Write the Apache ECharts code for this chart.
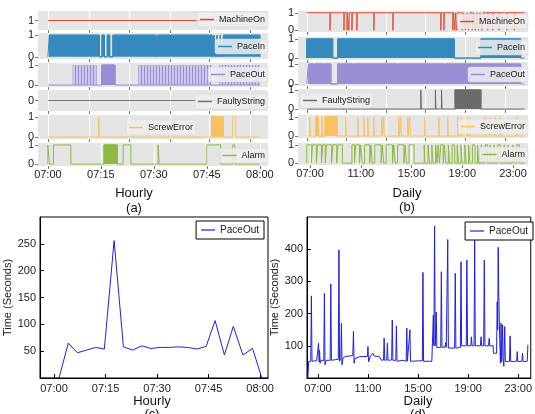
<!DOCTYPE html>
<html>
<head>
<meta charset="utf-8">
<title>Machine signals</title>
<script src="https://cdn.jsdelivr.net/npm/echarts@6/dist/echarts.min.js"></script>
<style>
  html, body { margin: 0; background: #fff; }
  #main { width: 535px; height: 414px; }
</style>
</head>
<body>
<div id="main"></div>
<script>
// ---- axis ticks ----
var hourTicks = [0, 15, 30, 45, 60];                 // minutes after 07:00
var hourLabels = ['07:00', '07:15', '07:30', '07:45', '08:00'];
var hourRowTicks = [0.1, 11.6, 23.0, 34.5, 45.8, 57.2];
var dayTicks = [7, 11, 15, 19, 23];                  // hours
var dayLabels = ['07:00', '11:00', '15:00', '19:00', '23:00'];
var dayRowTicks = [6.74, 9.89, 12.99, 16.12, 19.21, 22.37];

// ---- hourly signals (minutes), spans = high periods, blocks = dense high periods ----
var hMachineOnSpans = [];
var hPaceInBlocks = [[0.4, 14.6], [15.3, 16.0], [16.8, 17.5], [18.4, 30.6], [31.0, 46.5], [47.0, 47.5], [47.9, 48.4], [48.8, 49.3], [49.7, 60]];
var hPaceOutBlocks = [[15.2, 19.0]];
var hPaceOutStripes = [[7.0, 13.8], [25.6, 46.3], [48.5, 60]];
var hFaultySpans = [];
var hScrewSpans = [[14.4, 14.6], [52.3, 53.2]];
var hScrewBlocks = [[46.3, 49.7]];
var hAlarmSpans = [[0, 0.4], [1.6, 6.5], [21.3, 23.5], [31.2, 31.5], [45.0, 48.9], [52.3, 52.9]];
var hAlarmBlocks = [[15.9, 19.7]];

// ---- daily signals (hours) ----
var dMachineOnDips = [[8.57, 8.6], [9.67, 9.7], [9.91, 9.94], [10.06, 10.09], [10.3, 10.33], [10.69, 10.72], [12.03, 12.06], [13.53, 13.56],
  [17.31, 17.34], [17.55, 17.58], [18.26, 18.29], [18.42, 18.45], [18.57, 18.6], [19.0, 19.12], [19.25, 19.38], [19.5, 19.62],
  [19.78, 19.9], [20.03, 20.15], [20.28, 20.4], [20.55, 20.66], [21.0, 21.05], [21.4, 21.45], [21.9, 21.95], [22.5, 22.55], [23.1, 23.15]];
var dPaceInBlocks = [[6.74, 8.79], [9.18, 18.37], [20.47, 23.6]];
var dPaceOutBlocks = [[6.87, 7.3], [7.38, 8.02], [8.08, 8.65], [9.18, 10.38], [10.45, 13.88], [13.95, 17.6], [17.68, 23.6]];
var dFaultySpans = [[15.73, 15.77], [16.88, 16.92], [17.36, 17.4]];
var dFaultyBlocks = [[18.43, 20.47]];
var dScrewSpans = [[6.98, 7.03], [7.93, 7.98], [9.82, 9.87], [10.76, 10.81], [11.24, 11.29], [11.55, 11.6], [12.02, 12.07], [12.65, 12.7],
  [12.81, 12.86], [13.99, 14.04], [14.15, 14.2], [14.7, 14.75], [14.86, 14.91], [16.04, 16.09], [17.15, 17.2], [17.85, 17.9],
  [18.64, 18.69], [18.88, 18.93], [19.35, 19.4], [19.59, 19.64], [20.8, 20.85], [21.2, 21.25], [21.6, 21.65], [21.97, 22.02], [23.3, 23.35]];
var dScrewBlocks = [[7.45, 7.65], [8.18, 9.13]];
var dAlarmSpans = [[6.74, 7.1], [7.2, 7.5], [7.6, 7.9], [8.0, 8.2], [8.3, 8.7], [8.8, 9.1], [9.2, 9.55],
  [10.3, 10.5], [10.6, 10.9], [11.0, 11.1], [11.3, 11.7], [11.8, 11.9], [12.1, 12.6], [12.7, 12.8], [13.0, 13.5], [13.6, 13.7],
  [13.9, 14.4], [14.5, 14.6], [14.8, 15.2], [16.0, 16.05], [16.3, 16.4], [16.6, 16.7], [16.9, 17.0], [17.1, 17.2], [17.3, 17.5],
  [17.6, 17.7], [17.9, 18.0], [18.2, 18.4], [18.6, 18.7], [18.9, 19.0], [19.2, 19.3], [19.5, 19.6], [19.8, 20.0], [20.2, 20.3],
  [20.5, 20.6], [20.8, 21.0], [21.2, 21.3], [21.5, 21.6], [21.8, 22.0], [22.3, 22.4], [22.6, 22.7], [23.0, 23.1], [23.3, 23.5]];

// ---- PaceOut durations (seconds) ----
var hourlyTime = [-4.08, 1.46, 4.17, 6.79, 9.5, 12.1, 14.65, 17.5, 20.2, 22.9, 25.6, 28.2, 30.9, 33.6, 36.2, 38.9, 41.6, 44.3, 46.9, 49.6, 52.2, 55.0, 57.8, 60.5, 62.9];
var hourlyPace = [0, 0, 65, 47, 52, 57, 54, 256, 58, 52, 60, 55, 57, 57, 58, 57, 54, 59, 107, 43, 96, 43, 55, 0, 0];

var dailyTime = [6.2, 6.26, 6.43, 6.48, 6.53, 6.9, 7.0, 7.05, 7.1, 7.13, 7.18, 7.25,
  7.47, 7.52, 7.57, 7.65, 7.98, 8.03, 8.08, 8.4, 8.63, 8.68, 8.73, 8.83, 8.88, 8.93, 9.0,
  9.2, 9.5, 9.79, 9.84, 9.89, 9.95, 10.1, 10.3, 10.95, 11.0, 11.05, 11.2, 11.39, 11.5, 11.9, 12.03,
  12.08, 12.24, 12.29, 12.34, 12.5, 12.55, 12.6, 12.89, 12.94, 12.99, 13.22, 13.27, 13.32, 13.8,
  14.05, 14.1, 14.15, 14.3, 14.35, 14.4, 15.0, 15.34, 15.39, 15.44, 16.1,
  16.17, 16.22, 16.26, 16.32, 16.37, 16.45, 16.5, 16.81, 16.86, 16.91, 17.15, 17.2, 17.25,
  17.32, 17.37, 17.42, 17.92, 17.97, 18.02, 18.38, 18.43, 18.48, 18.85, 18.9, 18.95, 19.21, 19.26, 19.31,
  19.47, 19.52, 19.57, 19.98, 20.03, 20.08, 20.24, 20.29, 20.34, 20.63, 20.68, 20.73,
  21.0, 21.02, 21.27, 21.32, 21.36, 21.4, 21.44, 21.48, 21.52, 21.58, 21.63, 21.67, 21.71, 21.75, 21.79, 21.85, 21.92, 21.97,
  22.3, 22.35, 22.4, 22.87, 22.92, 22.97, 23.29, 23.34, 23.39, 23.72, 23.77];
var dailyPace = [0, 51, 52, 255, 52, 54, 55, 108, 50, 87, 46, 55,
  54, 263, 41, 55, 55, 292, 55, 57, 58, 398, 52, 60, 170, 41, 62,
  67, 68, 70, 145, 46, 60, 62, 66, 67, 98, 50, 68, 77, 68, 67, 67,
  55, 56, 124, 55, 56, 108, 55, 56, 180, 55, 55, 162, 52, 55,
  52, 155, 52, 52, 150, 52, 53, 54, 328, 52, 52,
  52, 195, 100, 472, 100, 205, 95, 95, 330, 95, 96, 110, 95,
  95, 430, 93, 93, 325, 93, 95, 361, 100, 100, 366, 100, 100, 128, 100,
  100, 428, 100, 100, 128, 100, 100, 366, 100, 100, 123, 100,
  100, 77, 77, 237, 150, 406, 270, 268, 120, 46, 170, 50, 46, 165, 60, 36, 160, 51,
  52, 131, 51, 52, 82, 51, 52, 77, 51, 52, 103];

// ---- helpers ----
function steps(start, end, base, spans) {
  var hi = 1 - base, d = [[start, base]];
  spans.forEach(function (s) { d.push([s[0], base], [s[0], hi], [s[1], hi], [s[1], base]); });
  d.push([end, base]);
  return d;
}
function pairs(xs, ys) { return xs.map(function (x, i) { return [x, ys[i]]; }); }

var stripe = document.createElement('canvas');
stripe.width = 3; stripe.height = 4;
var sg = stripe.getContext('2d');
sg.fillStyle = '#cdc8ea'; sg.fillRect(0, 0, 3, 4);
sg.fillStyle = '#988ED5'; sg.fillRect(0, 0, 1, 4);

var FONT = 'Liberation Sans, Arial, sans-serif';
var C = { mach: '#E24A33', pin: '#348ABD', pout: '#988ED5', faulty: '#777777', screw: '#FBC15E', alarm: '#8EBA42' };

var rowsA = [
  { key: '(a) MachineOn', color: C.mach, top: 11, h: 19, ymin: 0.945, ymax: 1.055, ticks: [1], base: 1, spans: hMachineOnSpans, lg: { right: 267, top: 12 } },
  { key: '(a) PaceIn', color: C.pin, top: 33, h: 26, ymin: -0.1, ymax: 1.1, ticks: [0, 1], base: 0, spans: [], blocks: hPaceInBlocks, lg: { right: 267, top: 39 } },
  { key: '(a) PaceOut', color: C.pout, top: 63, h: 24, ymin: -0.1, ymax: 1.1, ticks: [0, 1], base: 0, spans: [], blocks: hPaceOutBlocks, stripes: hPaceOutStripes, lg: { right: 267, top: 67 } },
  { key: '(a) FaultyString', color: C.faulty, top: 90, h: 21, ymin: -0.055, ymax: 0.055, ticks: [0], base: 0, spans: hFaultySpans, lg: { right: 267, top: 94 } },
  { key: '(a) ScrewError', color: C.screw, top: 115, h: 24, ymin: -0.1, ymax: 1.1, ticks: [0, 1], base: 0, spans: hScrewSpans, blocks: hScrewBlocks, lg: { left: 126, top: 120 } },
  { key: '(a) Alarm', color: C.alarm, top: 143, h: 23, ymin: -0.1, ymax: 1.1, ticks: [0, 1], base: 0, spans: hAlarmSpans, blocks: hAlarmBlocks, lg: { right: 267, top: 148 } }
];
var rowsB = [
  { key: '(b) MachineOn', color: C.mach, top: 11, h: 21, ymin: -0.1, ymax: 1.1, ticks: [0, 1], base: 1, spans: dMachineOnDips, lg: { right: 7, top: 14 } },
  { key: '(b) PaceIn', color: C.pin, top: 37, h: 23, ymin: -0.1, ymax: 1.1, ticks: [0, 1], base: 0, spans: [], blocks: dPaceInBlocks, lg: { right: 7, top: 40 } },
  { key: '(b) PaceOut', color: C.pout, top: 62, h: 24, ymin: -0.1, ymax: 1.1, ticks: [0, 1], base: 0, spans: [], blocks: dPaceOutBlocks, lg: { right: 7, top: 67 } },
  { key: '(b) FaultyString', color: '#6a6a6a', top: 89, h: 21, ymin: -0.05, ymax: 1.05, ticks: [0, 1], base: 0, spans: dFaultySpans, blocks: dFaultyBlocks, lg: { left: 300, top: 93 } },
  { key: '(b) ScrewError', color: C.screw, top: 115, h: 23, ymin: -0.1, ymax: 1.1, ticks: [0, 1], base: 0, spans: dScrewSpans, blocks: dScrewBlocks, lg: { right: 7, top: 119 } },
  { key: '(b) Alarm', color: C.alarm, top: 143, h: 22, ymin: -0.1, ymax: 1.1, ticks: [0, 1], base: 0, spans: dAlarmSpans, lg: { right: 7, top: 147 } }
];

var grids = [], xAxes = [], yAxes = [], series = [], legends = [];

function addRows(rows, left, right, xmin, xmax, start, end, rowTicks, ticks, labels) {
  rows.forEach(function (r, i) {
    var idx = grids.length, last = i === rows.length - 1;
    var xt = last ? ticks : rowTicks;
    grids.push({ left: left, right: right, top: r.top, height: r.h, show: true, backgroundColor: '#E5E5E5', borderWidth: 0 });
    xAxes.push({
      type: 'value', gridIndex: idx, min: xmin, max: xmax,
      axisLine: { show: false, onZero: false },
      axisTick: { show: true, length: 3, customValues: xt, lineStyle: { color: '#777' } },
      splitLine: { show: true, lineStyle: { color: '#fff', width: 1 } },
      axisLabel: last ? {
        show: true, customValues: ticks, margin: 3, fontSize: 11, color: '#222', fontFamily: FONT,
        formatter: function (v) { return labels[ticks.indexOf(v)]; }
      } : { show: false }
    });
    yAxes.push({
      type: 'value', gridIndex: idx, min: r.ymin, max: r.ymax,
      axisLine: { show: false, onZero: false },
      axisTick: { show: true, length: 3, customValues: r.ticks, lineStyle: { color: '#777' } },
      splitLine: { show: false },
      axisLabel: { customValues: r.ticks, fontSize: 11, color: '#222', fontFamily: FONT, margin: 4, formatter: function (v) { return String(Math.round(v)); } }
    });
    var allSpans = r.spans.concat(r.blocks || []).sort(function (a, b) { return a[0] - b[0]; });
    series.push({
      name: r.key, type: 'line', xAxisIndex: idx, yAxisIndex: idx, symbol: 'none', silent: true,
      color: r.color, lineStyle: { color: r.color, width: 1 },
      data: steps(start, end, r.base, allSpans)
    });
    if (r.blocks && r.blocks.length) {
      series.push({
        name: r.key, type: 'line', xAxisIndex: idx, yAxisIndex: idx, symbol: 'none', silent: true,
        color: r.color, lineStyle: { color: r.color, width: 1 },
        areaStyle: { color: r.color, opacity: 1 },
        data: steps(r.blocks[0][0], r.blocks[r.blocks.length - 1][1], 0, r.blocks)
      });
    }
    if (r.stripes) {
      series.push({
        name: r.key, type: 'line', xAxisIndex: idx, yAxisIndex: idx, symbol: 'none', silent: true,
        color: r.color, lineStyle: { width: 0 },
        areaStyle: { color: { image: stripe, repeat: 'repeat' }, opacity: 1 },
        data: steps(r.stripes[0][0], r.stripes[r.stripes.length - 1][1], 0, r.stripes)
      });
    }
    legends.push(Object.assign({
      data: [r.key], orient: 'horizontal', icon: 'rect', itemWidth: 14, itemHeight: 1.5, itemGap: 0, itemTextGap: 5,
      padding: [3, 3], backgroundColor: 'rgba(238,238,238,0.85)', borderColor: '#d0d0d0', borderWidth: 0.5, borderRadius: 2,
      selectedMode: false, formatter: function (n) { return n.slice(4); },
      textStyle: { fontSize: 9, color: '#222', fontFamily: FONT }
    }, r.lg));
  });
}

addRows(rowsA, 38, 267, -2.8, 62.3, 0, 60, hourRowTicks, hourTicks, hourLabels);
addRows(rowsB, 298, 7, 6.05, 24.18, 6.74, 23.9, dayRowTicks, dayTicks, dayLabels);

// ---- bottom panels ----
function addPace(key, left, right, xmin, xmax, ymax, yTicks, ticks, labels, data, lg) {
  var idx = grids.length;
  grids.push({ left: left, right: right, top: 217, bottom: 36, show: true, borderColor: '#000', borderWidth: 1, backgroundColor: 'transparent' });
  xAxes.push({
    type: 'value', gridIndex: idx, min: xmin, max: xmax,
    axisLine: { show: true, onZero: false, lineStyle: { color: '#000' } },
    axisTick: { show: true, inside: true, length: 4, customValues: ticks, lineStyle: { color: '#000' } },
    splitLine: { show: false },
    axisLabel: { customValues: ticks, margin: 5, fontSize: 11, color: '#222', fontFamily: FONT,
      formatter: function (v) { return labels[ticks.indexOf(v)]; } }
  });
  yAxes.push({
    type: 'value', gridIndex: idx, min: 0, max: ymax,
    name: 'Time (Seconds)', nameLocation: 'middle', nameGap: 26,
    nameTextStyle: { fontSize: 11, color: '#222', fontFamily: FONT },
    axisLine: { show: true, onZero: false, lineStyle: { color: '#000' } },
    axisTick: { show: true, inside: true, length: 4, customValues: yTicks, lineStyle: { color: '#000' } },
    splitLine: { show: false },
    axisLabel: { customValues: yTicks, margin: 4, fontSize: 11, color: '#222', fontFamily: FONT }
  });
  series.push({
    name: key, type: 'line', xAxisIndex: idx, yAxisIndex: idx, symbol: 'none', silent: true,
    color: '#2020e0', lineStyle: { color: '#2020e0', width: 1 }, data: data
  });
  legends.push(Object.assign({
    data: [key], icon: 'rect', itemWidth: 14, itemHeight: 1.2, itemTextGap: 7,
    padding: [4, 5], backgroundColor: '#fff', borderColor: '#000', borderWidth: 1, borderRadius: 0,
    selectedMode: false, formatter: function (n) { return n.slice(4); },
    textStyle: { fontSize: 10, color: '#222', fontFamily: FONT }
  }, lg));
}

addPace('(c) PaceOut', 40, 267, -4.08, 62.3, 300, [50, 100, 150, 200, 250], hourTicks, hourLabels,
  pairs(hourlyTime, hourlyPace), { right: 271, top: 221 });
addPace('(d) PaceOut', 307, -3, 6.13, 24.0, 500, [100, 200, 300, 400], dayTicks, dayLabels,
  pairs(dailyTime, dailyPace), { right: 2, top: 222 });

function caption(x, y, t) {
  return { type: 'text', x: x, y: y, style: { text: t, fontSize: 13, fill: '#111', fontFamily: FONT, textAlign: 'center', textVerticalAlign: 'middle' } };
}

var chart = echarts.init(document.getElementById('main'));
chart.setOption({
  animation: false,
  backgroundColor: '#fff',
  grid: grids,
  xAxis: xAxes,
  yAxis: yAxes,
  legend: legends,
  series: series,
  graphic: [
    caption(134, 193, 'Hourly'), caption(134, 208, '(a)'),
    caption(407, 193, 'Daily'), caption(407, 207, '(b)'),
    caption(152, 401, 'Hourly'), caption(152, 414, '(c)'),
    caption(418, 401, 'Daily'), caption(418, 414, '(d)')
  ]
});
</script>
</body>
</html>
